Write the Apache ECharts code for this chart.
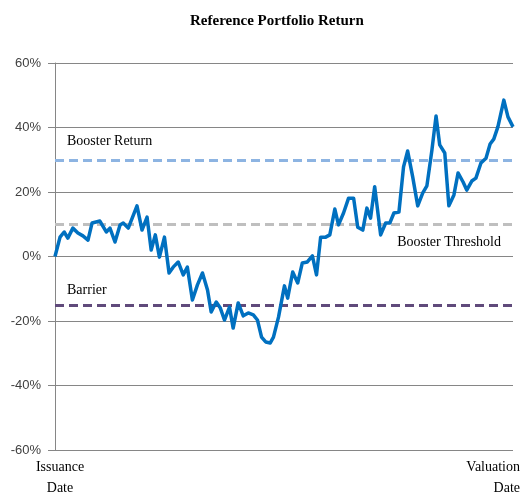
<!DOCTYPE html>
<html>
<head>
<meta charset="utf-8">
<script src="https://cdn.jsdelivr.net/npm/echarts@6/dist/echarts.min.js"></script>
<style>
  html, body { margin: 0; padding: 0; background: #fff; }
  #chartLineBox { width: 529px; height: 493px; }
</style>
</head>
<body>
<div id="chartLineBox"></div>
<script>
// time position (0 = issuance, 100 = valuation) and portfolio return in %
var periods = [0, 1.1, 2.0, 2.8, 3.9, 5.0, 6.1, 7.2, 8.1, 9.8, 11.2, 12.0, 13.1, 14.2, 14.9, 16.0,
  17.9, 19.0, 20.1, 21.0, 21.9, 22.8, 23.9, 24.9, 25.8, 26.9, 28.0, 28.9, 30.0, 31.1, 32.2,
  33.3, 34.1, 35.2, 36.1, 37.0, 38.1, 38.9, 40.0, 41.1, 42.2, 43.3, 44.2, 45.1, 46.0, 47.0,
  47.7, 48.8, 50.1, 50.8, 51.9, 53.0, 54.0, 55.1, 56.2, 57.1, 58.0, 59.1, 60.0, 61.1, 61.9,
  63.0, 64.1, 65.2, 66.1, 67.2, 68.1, 68.9, 69.8, 71.1, 72.2, 73.1, 74.0, 75.1, 76.1, 77.0,
  78.1, 79.2, 80.3, 81.2, 82.3, 83.2, 84.0, 85.1, 86.0, 87.1, 88.0, 89.1, 89.9, 91.0, 91.9,
  93.0, 94.1, 95.0, 95.8, 96.7, 98.0, 98.9, 100];
var returns = [0, 6.0, 7.6, 5.7, 8.8, 7.3, 6.4, 5.1, 10.4, 11.0, 7.6, 8.8, 4.5, 9.8, 10.4, 8.8,
  15.7, 8.2, 12.2, 2.0, 6.7, -0.2, 6.0, -5.1, -3.3, -1.7, -5.7, -3.3, -13.5, -8.8, -5.1,
  -10.4, -17.2, -14.1, -16.0, -19.7, -15.7, -22.2, -14.4, -18.4, -17.5, -18.1, -19.7, -25.0, -26.5, -26.8,
  -25.0, -18.8, -9.1, -12.9, -4.8, -8.2, -2.0, -1.7, 0.2, -5.7, 6.0, 6.0, 6.7, 14.7, 9.8,
  13.5, 18.1, 18.1, 9.1, 8.2, 15.0, 11.9, 21.6, 6.7, 10.4, 10.4, 13.5, 13.8, 27.8, 32.7,
  24.7, 15.7, 19.7, 21.9, 33.0, 43.6, 34.6, 32.1, 15.7, 19.1, 25.9, 23.1, 20.6, 23.4, 24.3,
  29.0, 30.5, 34.9, 36.4, 40.2, 48.5, 43.3, 40.2];

var levelNames = ["Booster Return", "Booster Threshold", "Barrier"];
var levelValues = [30, 10, -15];
var xTickLabels = ["Issuance\nDate", "Valuation\nDate"];

var serif = "'Liberation Serif', 'Times New Roman', serif";
var sans = "'Liberation Sans', Arial, sans-serif";

var lineData = [];
for (var i = 0; i < periods.length; i++) {
  lineData.push([periods[i], returns[i]]);
}

var levelColors = ["#8db4e2", "#bfbfbf", "#604a7b"];
var levelLabelPos = ["insideStartTop", "insideEndBottom", "insideStartTop"];
var levelLabelGap = [11, 11, 8];
var levelLines = [];
for (var j = 0; j < levelValues.length; j++) {
  levelLines.push({
    name: levelNames[j],
    yAxis: levelValues[j],
    lineStyle: { color: levelColors[j], type: [9, 5], width: 3 },
    label: {
      show: true,
      formatter: levelNames[j],
      position: levelLabelPos[j],
      distance: [12, levelLabelGap[j]],
      color: "#000",
      fontFamily: serif,
      fontSize: 14,
    },
  });
}

var labelRich = {
  first: { fontFamily: serif, fontSize: 14, color: "#000", lineHeight: 21, padding: [0, 0, 0, 10] },
  last: { fontFamily: serif, fontSize: 14, color: "#000", lineHeight: 21, padding: [0, -7, 0, 0] },
};

var option = {
  animation: false,
  backgroundColor: "#fff",
  title: {
    text: "Reference Portfolio Return",
    left: 185,
    top: 9,
    textStyle: { fontFamily: serif, fontWeight: "bold", fontSize: 15, color: "#000" },
  },
  grid: { left: 55, right: 16, top: 63, bottom: 43, outerBoundsMode: "none" },
  xAxis: {
    type: "value",
    min: 0,
    max: 100,
    interval: 100,
    axisLine: { show: false },
    axisTick: { show: false },
    splitLine: { show: false },
    axisLabel: {
      show: true,
      margin: 7,
      alignMaxLabel: "right",
      color: "#000",
      fontFamily: serif,
      fontSize: 14,
      rich: labelRich,
      formatter: function (v) {
        if (v === 0) return "{first|" + xTickLabels[0].replace("\n", "}\n{first|") + "}";
        if (v === 100) return "{last|" + xTickLabels[1].replace("\n", "}\n{last|") + "}";
        return "";
      },
    },
  },
  yAxis: {
    type: "value",
    min: -60,
    max: 60,
    interval: 20,
    axisLine: { show: true, onZero: false, lineStyle: { color: "#868686", width: 1 } },
    axisTick: { show: true, length: 7, lineStyle: { color: "#868686" } },
    splitLine: { show: true, lineStyle: { color: "#868686", width: 1 } },
    axisLabel: {
      margin: 14,
      color: "#404040",
      fontFamily: sans,
      fontSize: 13,
      formatter: "{value}%",
    },
  },
  series: [
    {
      name: "levels",
      type: "line",
      data: [],
      z: 1,
      markLine: {
        silent: true,
        symbol: "none",
        animation: false,
        data: levelLines,
      },
    },
    {
      name: "Reference Portfolio",
      type: "line",
      data: lineData,
      z: 5,
      showSymbol: false,
      symbol: "none",
      lineStyle: { color: "#0070c0", width: 3.5, join: "round" },
    },
  ],
};

var chartLine = echarts.init(document.getElementById("chartLineBox"));
chartLine.setOption(option);
</script>
</body>
</html>
